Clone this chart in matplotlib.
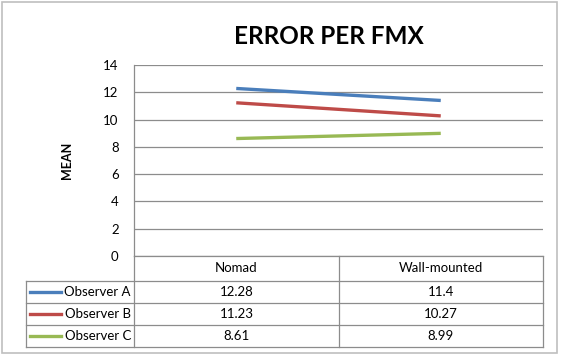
import matplotlib.pyplot as plt
import numpy as np

categories = ['Nomad', 'Wall-mounted']
series_names = ['Observer A', 'Observer B', 'Observer C']
observer_a = [12.28, 11.4]
observer_b = [11.23, 10.27]
observer_c = [8.61, 8.99]
value_labels = [['12.28', '11.4'], ['11.23', '10.27'], ['8.61', '8.99']]
y_ticks = [0, 2, 4, 6, 8, 10, 12, 14]

colors = ['#4A7EBB', '#BE4B48', '#98B954']
grid_color = '#8C8C8C'
W, H = 561, 357

plt.rcParams['font.family'] = ['Lato', 'DejaVu Sans']


def fx(px):
    return px / W


def fy(py):
    return 1 - py / H


def main() -> None:
    fig = plt.figure(figsize=(W / 100, H / 100), dpi=100)

    # outer chart border
    fig.patches.append(plt.Rectangle((fx(2), fy(353)), fx(555), 351 / H,
                                     transform=fig.transFigure, fill=False,
                                     edgecolor='#BFBFBF', linewidth=1.2))

    left, right, top, bottom = 134, 543, 65, 256
    ax = fig.add_axes([fx(left), fy(bottom), fx(right - left), (bottom - top) / H])
    x = np.arange(len(categories)) + 0.5
    for vals, c in zip([observer_a, observer_b, observer_c], colors):
        ax.plot(x, vals, color=c, linewidth=2.4, solid_capstyle='butt')
    ax.set_xlim(0, len(categories))
    ax.set_ylim(0, 14)
    ax.set_yticks(y_ticks)
    ax.set_xticks([])
    ax.tick_params(axis='y', length=0, labelsize=9.5, pad=11, colors='#000000')
    ax.grid(axis='y', color=grid_color, linewidth=0.9)
    ax.set_axisbelow(True)
    for s in ['top', 'right', 'bottom']:
        ax.spines[s].set_visible(False)
    ax.spines['left'].set_color(grid_color)
    ax.spines['left'].set_linewidth(0.9)
    ax.set_ylabel('MEAN', fontsize=9, fontweight='bold', labelpad=22)

    fig.text(fx(329), fy(37), 'ERROR PER FMX', ha='center', va='center',
             fontsize=17.5, fontweight='bold')

    # data table below the plot
    t_left, t_bottom = 26, 347
    rows = [256, 281, 303, 325, 347]
    col_x = [left, 339, right]
    tax = fig.add_axes([fx(t_left), fy(t_bottom), fx(right - t_left), (t_bottom - bottom) / H])
    tax.set_xlim(t_left, right)
    tax.set_ylim(t_bottom, bottom)
    tax.axis('off')
    lw = 0.9
    tax.plot([left, right], [rows[0], rows[0]], color=grid_color, lw=lw, clip_on=False)
    for r in rows[1:]:
        tax.plot([t_left, right], [r, r], color=grid_color, lw=lw, clip_on=False)
    for cx in col_x:
        tax.plot([cx, cx], [rows[0], rows[-1]], color=grid_color, lw=lw, clip_on=False)
    tax.plot([t_left, t_left], [rows[1], rows[-1]], color=grid_color, lw=lw, clip_on=False)

    centers = [(col_x[i] + col_x[i + 1]) / 2 for i in range(len(categories))]
    for cx, cat in zip(centers, categories):
        tax.text(cx, (rows[0] + rows[1]) / 2, cat, ha='center', va='center', fontsize=9.5)
    for i, name in enumerate(series_names):
        ry = (rows[i + 1] + rows[i + 2]) / 2
        tax.plot([30, 61], [ry, ry], color=colors[i], lw=2.4, clip_on=False)
        tax.text(131, ry, name, ha='right', va='center', fontsize=9.5)
        for cx, lab in zip(centers, value_labels[i]):
            tax.text(cx, ry, lab, ha='center', va='center', fontsize=9.5)

    fig.savefig('out.png', dpi=100)


if __name__ == '__main__':
    main()
